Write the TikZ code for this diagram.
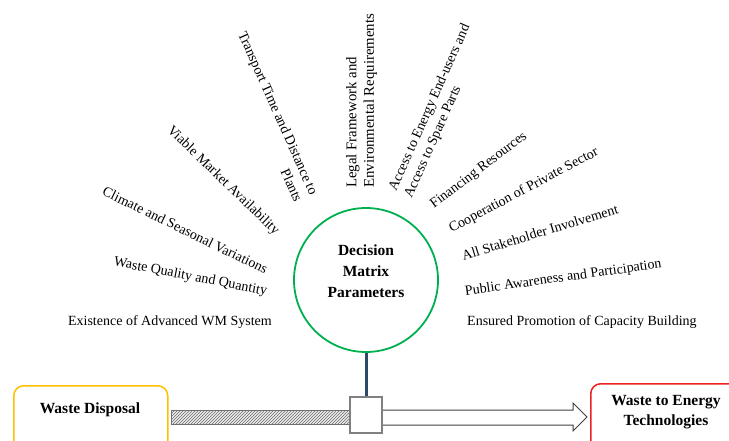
\documentclass[tikz,border=0pt]{standalone}
\usepackage{fontspec}
\setmainfont{Liberation Serif}
\usetikzlibrary{patterns}
\definecolor{circgreen}{HTML}{00B050}
\definecolor{boxorange}{HTML}{FFC000}
\definecolor{boxred}{HTML}{F02020}
\definecolor{stemblue}{HTML}{2F4A68}
\tikzstyle{param}=[font=\fontsize{14}{17}\selectfont,inner sep=0pt]
\tikzstyle{heading}=[font=\fontsize{15.5}{20}\selectfont\bfseries,align=center,inner sep=0pt]
\tikzstyle{endbox}=[rectangle,rounded corners=10pt,line width=1.5pt,minimum width=154pt,minimum height=90pt,anchor=north west]

\begin{document}
\begin{tikzpicture}[x=1pt,y=-1pt]
\useasboundingbox (0,0) rectangle (729,441);
\clip (0,0) rectangle (729,441);
% the hub
\node[circle,draw=circgreen,line width=1.8pt,minimum size=144pt] (circ) at (366,280) {};
\node[heading,font=\fontsize{15.5}{21}\selectfont\bfseries] (dmp) at (366,271) {Decision\\Matrix\\Parameters};
% parameters, left half
\node[param,anchor=east] (exist) at (272,322) {Existence of Advanced WM System};
\node[param,anchor=east,rotate=-11] (quality) at (267,292) {Waste Quality and Quantity};
\node[param,anchor=east,rotate=-26] (climate) at (267,270) {Climate and Seasonal Variations};
\node[param,anchor=east,rotate=-44] (market) at (277,233) {Viable Market Availability};
\node[param,anchor=north east,rotate=-66,align=right] (transport) at (319,192) {Transport Time and Distance to\\Plants};
% parameters, right half
\node[param,font=\fontsize{14.8}{17.5}\selectfont,anchor=north west,rotate=90,align=left] (legal) at (346,188) {Legal Framework and\\Environmental Requirements};
\node[param,anchor=north west,rotate=66,align=left] (access) at (387,188) {Access to Energy End-users and\\Access to Spare Parts};
\node[param,anchor=west,rotate=37] (finance) at (432,206) {Financing Resources};
\node[param,anchor=west,rotate=28] (private) at (450,230) {Cooperation of Private Sector};
\node[param,anchor=west,rotate=17] (stake) at (462,256) {All Stakeholder Involvement};
\node[param,anchor=west,rotate=8] (public) at (465,292) {Public Awareness and Participation};
\node[param,anchor=west] (capacity) at (467,322) {Ensured Promotion of Capacity Building};
% the route along the bottom
\node[endbox,draw=boxorange] (wd) at (13,385) {};
\node[heading] (wdtxt) at (90,410) {Waste Disposal};
\node[endbox,draw=boxred,minimum width=160pt] (wte) at (590,383) {};
\node[heading] (wtetxt) at (666,412) {Waste to Energy\\Technologies};
\node[rectangle,draw=gray!90!black,fill=gray!15,postaction={pattern=north east lines,pattern color=gray!85!black},line width=0.9pt,minimum width=178pt,minimum height=14pt,inner sep=0pt] (bar) at (260,417) {};
\draw[draw=black!75,fill=white,line width=1pt] (381,410) -- (573,410) -- (573,403) -- (587,417) -- (573,431) -- (573,425) -- (381,425);
\node[rectangle,draw=gray,fill=white,line width=1.2pt,minimum width=32pt,minimum height=36pt,inner sep=0pt] (sq) at (366,415) {};
\draw[stemblue,line width=3pt] (circ.south) -- (sq.north);
\end{tikzpicture}
\end{document}
